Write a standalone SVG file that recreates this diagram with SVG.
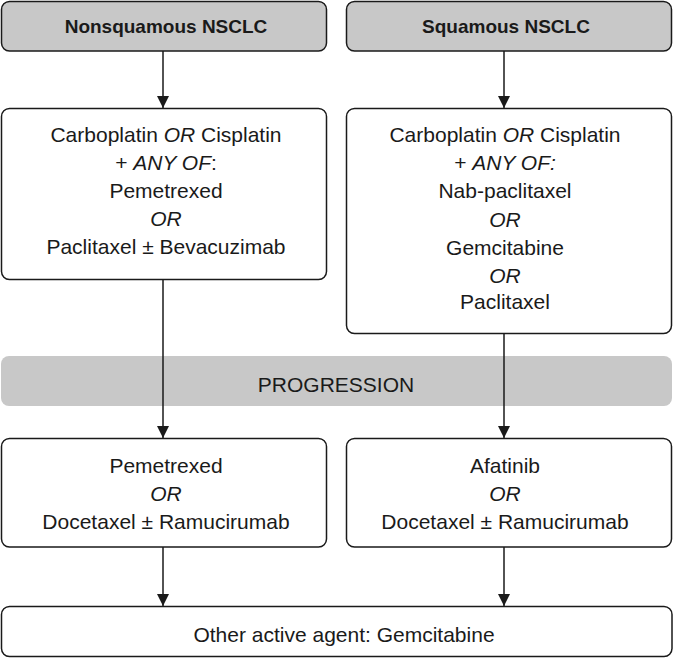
<svg xmlns="http://www.w3.org/2000/svg" width="674" height="658" viewBox="0 0 674 658">
<defs>
<style>
.box{fill:#fff;stroke:#1a1a1a;stroke-width:1.5}
.hdr{fill:#c8c8c8;stroke:#1a1a1a;stroke-width:1.5}
.band{fill:#c8c8c8}
text{font-family:"Liberation Sans",Arial,sans-serif;font-size:21px;fill:#1a1a1a;text-anchor:middle}
.b{font-weight:bold;font-size:19px}
.i{font-style:italic}
.conn{stroke:#1a1a1a;stroke-width:1.5;fill:none;marker-end:url(#ah)}
</style>
<marker id="ah" viewBox="0 0 12 12" refX="12" refY="6" markerWidth="12" markerHeight="12" markerUnits="userSpaceOnUse" orient="auto">
<path d="M0,0 L12,6 L0,12 Z" fill="#1a1a1a"/>
</marker>
</defs>
<g id="progression">
<rect class="band" x="1" y="356" width="671" height="50" rx="8"/>
<text x="336" y="392">PROGRESSION</text>
</g>
<g id="connectors">
<line class="conn" x1="163" y1="51" x2="163" y2="108"/>
<line class="conn" x1="504" y1="51" x2="504" y2="108"/>
<line class="conn" x1="163" y1="280" x2="163" y2="438"/>
<line class="conn" x1="504" y1="334" x2="504" y2="438"/>
<line class="conn" x1="163" y1="547" x2="163" y2="606"/>
<line class="conn" x1="504" y1="547" x2="504" y2="606"/>
</g>
<g id="hdr-nonsq">
<rect class="hdr" x="1.5" y="1.5" width="325" height="49.5" rx="8"/>
<text class="b" x="166" y="33">Nonsquamous NSCLC</text>
</g>
<g id="hdr-sq">
<rect class="hdr" x="346.5" y="1.5" width="325" height="49.5" rx="8"/>
<text class="b" x="506" y="33">Squamous NSCLC</text>
</g>
<g id="first-nonsq">
<rect class="box" x="1.5" y="108.5" width="325" height="171" rx="8"/>
<text x="166" y="142">Carboplatin <tspan class="i">OR</tspan> Cisplatin</text>
<text x="166" y="170">+ <tspan class="i">ANY OF</tspan>:</text>
<text x="166" y="198">Pemetrexed</text>
<text x="166" y="226" class="i">OR</text>
<text x="166" y="254">Paclitaxel ± Bevacuzimab</text>
</g>
<g id="first-sq">
<rect class="box" x="346.5" y="108.5" width="325" height="225" rx="8"/>
<text x="505" y="142">Carboplatin <tspan class="i">OR</tspan> Cisplatin</text>
<text x="505" y="170">+ <tspan class="i">ANY OF:</tspan></text>
<text x="505" y="198">Nab-paclitaxel</text>
<text x="505" y="227" class="i">OR</text>
<text x="505" y="255">Gemcitabine</text>
<text x="505" y="283" class="i">OR</text>
<text x="505" y="309">Paclitaxel</text>
</g>
<g id="second-nonsq">
<rect class="box" x="1.5" y="438.5" width="325" height="108.5" rx="8"/>
<text x="166" y="473">Pemetrexed</text>
<text x="166" y="501" class="i">OR</text>
<text x="166" y="529">Docetaxel ± Ramucirumab</text>
</g>
<g id="second-sq">
<rect class="box" x="346.5" y="438.5" width="325" height="108.5" rx="8"/>
<text x="505" y="473">Afatinib</text>
<text x="505" y="501" class="i">OR</text>
<text x="505" y="529">Docetaxel ± Ramucirumab</text>
</g>
<g id="other">
<rect class="box" x="1.5" y="606.5" width="670.5" height="50" rx="8"/>
<text x="344" y="642">Other active agent: Gemcitabine</text>
</g>
</svg>
